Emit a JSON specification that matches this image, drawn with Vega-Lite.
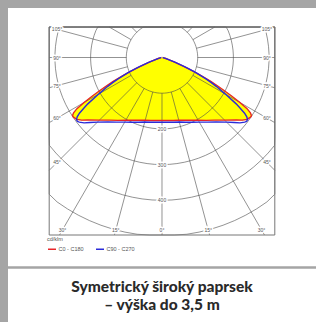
{
  "$schema": "https://vega.github.io/schema/vega-lite/v6.json",
  "width": 316,
  "height": 322,
  "autosize": {"type": "none"},
  "padding": 0,
  "background": "white",
  "config": {
    "view": {"stroke": null}
  },
  "datasets": {
    "curves": [
      {"plane": "C0 - C180",
       "g": [-90,-85,-80,-75,-72,-70,-68,-67,-66,-65,-64,-63,-62,-61,-60,-59,-58,-57,-56,-54,-52,-50,-45,-40,-35,-30,-25,-20,-15,-10,-5,0,5,10,15,20,25,30,35,40,45,50,52,54,56,57,58,59,60,61,62,63,64,65,66,67,68,70,72,75,80,85,90],
       "cd": [2,3,5,11,21,36,62,80,102,126,152,174,198,224,252,278,292,299,299,295,285,272,248,229,215,203,194,187,182,179,177,176,177,179,182,187,194,203,215,229,248,272,285,295,299,299,292,278,252,224,198,174,152,126,102,80,62,36,21,11,5,3,2]},
      {"plane": "C90 - C270",
       "g": [-90,-85,-80,-75,-72,-70,-68,-66,-64,-63,-62,-60,-58,-57,-56,-55,-54,-53,-52,-50,-48,-45,-40,-35,-30,-25,-20,-15,-10,-5,0,5,10,15,20,25,30,35,40,45,48,50,52,53,54,55,56,57,58,60,62,63,64,66,68,70,72,75,80,85,90],
       "cd": [2,3,5,12,23,40,68,103,138,155,172,205,245,262,279,290,296,297,294,285,272,256,236,221,209,200,193,187,184,182,181,182,184,187,193,200,209,221,236,256,272,285,294,297,296,290,279,262,245,205,172,155,138,103,68,40,23,12,5,3,2]}
    ],
    "rings": [
      {"r100": 100, "r200": 200, "r300": 300, "r400": 400, "r500": 500,
       "a": [0,4,8,12,16,20,24,28,32,36,40,44,48,52,56,60,64,68,72,76,80,84,88,92,96,100,104,108,112,116,120,124,128,132,136,140,144,148,152,156,160,164,168,172,176,180,184,188,192,196,200,204,208,212,216,220,224,228,232,236,240,244,248,252,256,260,264,268,272,276,280,284,288,292,296,300,304,308,312,316,320,324,328,332,336,340,344,348,352,356,360]}
    ],
    "rays": [
      {"g": [-180,-165,-150,-135,-120,-105,-90,-75,-60,-45,-30,-15,0,15,30,45,60,75,90,105,120,135,150,165,180]}
    ],
    "labels": [
      {"t": "105°", "g": -105}, {"t": "90°", "g": -90}, {"t": "75°", "g": -75}, {"t": "60°", "g": -60},
      {"t": "45°", "g": -45}, {"t": "30°", "g": -30}, {"t": "15°", "g": -15}, {"t": "0°", "g": 0},
      {"t": "15°", "g": 15}, {"t": "30°", "g": 30}, {"t": "45°", "g": 45}, {"t": "60°", "g": 60},
      {"t": "75°", "g": 75}, {"t": "90°", "g": 90}, {"t": "105°", "g": 105},
      {"t": "200", "g": 0, "r": 200}, {"t": "300", "g": 0, "r": 300}, {"t": "400", "g": 0, "r": 400}
    ]
  },
  "layer": [
    {
      "data": {"name": "curves"},
      "transform": [
        {"flatten": ["g", "cd"]},
        {"filter": "datum.plane === 'C0 - C180'"},
        {"calculate": "datum.cd*sin(datum.g*PI/180)", "as": "X"},
        {"calculate": "-datum.cd*cos(datum.g*PI/180)", "as": "Y"}
      ],
      "mark": {"type": "line", "fill": "#ffff00", "stroke": "#ffff00", "strokeWidth": 0.5},
      "encoding": {
        "x": {"field": "X", "type": "quantitative", "scale": {"domain": [-453.8, 431.4], "nice": false, "zero": false}, "axis": null},
        "y": {"field": "Y", "type": "quantitative", "scale": {"domain": [-740.9, 161.1], "nice": false, "zero": false}, "axis": null},
        "order": {"field": "g", "type": "quantitative"}
      }
    },
    {
      "data": {"name": "rings"},
      "transform": [
        {"flatten": ["a"]},
        {"fold": ["r100", "r200", "r300", "r400", "r500"], "as": ["ring", "r"]},
        {"calculate": "clamp(datum.r*sin(datum.a*PI/180), -316, 316)", "as": "X"},
        {"calculate": "clamp(-datum.r*cos(datum.a*PI/180), -497.2, 85.4)", "as": "Y"}
      ],
      "mark": {"type": "line", "stroke": "#4a4a4a", "strokeWidth": 0.6},
      "encoding": {
        "x": {"field": "X", "type": "quantitative", "scale": {"domain": [-453.8, 431.4], "nice": false, "zero": false}, "axis": null},
        "y": {"field": "Y", "type": "quantitative", "scale": {"domain": [-740.9, 161.1], "nice": false, "zero": false}, "axis": null},
        "detail": {"field": "ring", "type": "nominal"},
        "order": {"field": "a", "type": "quantitative"}
      }
    },
    {
      "data": {"name": "rays"},
      "transform": [
        {"flatten": ["g"]},
        {"calculate": "sin(datum.g*PI/180)", "as": "s"},
        {"calculate": "cos(datum.g*PI/180)", "as": "c"},
        {"calculate": "min(abs(datum.s) > 0.001 ? 316/abs(datum.s) : 100000, datum.c > 0.001 ? 497.2/datum.c : (datum.c < -0.001 ? 85.4/(-datum.c) : 100000))", "as": "re"},
        {"filter": "datum.re > 100"},
        {"calculate": "100*datum.s", "as": "X"},
        {"calculate": "-100*datum.c", "as": "Y"},
        {"calculate": "datum.re*datum.s", "as": "X2"},
        {"calculate": "-datum.re*datum.c", "as": "Y2"}
      ],
      "mark": {"type": "rule", "stroke": "#4a4a4a", "strokeWidth": 0.6},
      "encoding": {
        "x": {"field": "X", "type": "quantitative", "scale": {"domain": [-453.8, 431.4], "nice": false, "zero": false}, "axis": null},
        "y": {"field": "Y", "type": "quantitative", "scale": {"domain": [-740.9, 161.1], "nice": false, "zero": false}, "axis": null},
        "x2": {"field": "X2"},
        "y2": {"field": "Y2"}
      }
    },
    {
      "data": {"values": [{}]},
      "mark": {"type": "rect", "filled": false, "stroke": "#777777", "strokeWidth": 1},
      "encoding": {
        "x": {"datum": -316, "type": "quantitative", "scale": {"domain": [-453.8, 431.4], "nice": false, "zero": false}, "axis": null},
        "x2": {"datum": 316},
        "y": {"datum": 85.4, "type": "quantitative", "scale": {"domain": [-740.9, 161.1], "nice": false, "zero": false}, "axis": null},
        "y2": {"datum": -497.2}
      }
    },
    {
      "data": {"name": "curves"},
      "transform": [
        {"flatten": ["g", "cd"]},
        {"calculate": "datum.cd*sin(datum.g*PI/180)", "as": "X"},
        {"calculate": "-datum.cd*cos(datum.g*PI/180)", "as": "Y"}
      ],
      "mark": {"type": "line", "strokeWidth": 1.4},
      "encoding": {
        "x": {"field": "X", "type": "quantitative", "scale": {"domain": [-453.8, 431.4], "nice": false, "zero": false}, "axis": null},
        "y": {"field": "Y", "type": "quantitative", "scale": {"domain": [-740.9, 161.1], "nice": false, "zero": false}, "axis": null},
        "order": {"field": "g", "type": "quantitative"},
        "color": {
          "field": "plane", "type": "nominal",
          "scale": {"domain": ["C0 - C180", "C90 - C270"], "range": ["#e8262a", "#2b2bd9"]},
          "legend": {
            "orient": "none", "legendX": 47, "legendY": 237, "direction": "horizontal",
            "title": "cd/klm", "titleFontSize": 5.5, "titleFontWeight": "normal", "titleColor": "#555555",
            "titleFont": "Liberation Sans", "titlePadding": 1.5,
            "labelFontSize": 5.5, "labelColor": "#555555", "labelFont": "Liberation Sans",
            "symbolType": "stroke", "symbolSize": 64, "symbolStrokeWidth": 1.5, "columnPadding": 9, "labelOffset": 1.5, "padding": 0
          }
        }
      }
    },
    {
      "data": {"name": "labels"},
      "transform": [
        {"calculate": "sin(datum.g*PI/180)", "as": "s"},
        {"calculate": "cos(datum.g*PI/180)", "as": "c"},
        {"calculate": "isValid(datum.r) ? datum.r : min(abs(datum.s) > 0.001 ? 294/abs(datum.s) : 100000, datum.c > 0.001 ? 483/datum.c : 100000)", "as": "rr"},
        {"calculate": "datum.rr*datum.s", "as": "X"},
        {"calculate": "-datum.rr*datum.c", "as": "Y"}
      ],
      "mark": {"type": "text", "fontSize": 5, "font": "Liberation Sans", "stroke": "white", "strokeWidth": 3, "fill": "white", "align": "center", "baseline": "middle"},
      "encoding": {
        "x": {"field": "X", "type": "quantitative", "scale": {"domain": [-453.8, 431.4], "nice": false, "zero": false}, "axis": null},
        "y": {"field": "Y", "type": "quantitative", "scale": {"domain": [-740.9, 161.1], "nice": false, "zero": false}, "axis": null},
        "text": {"field": "t"}
      }
    },
    {
      "data": {"name": "labels"},
      "transform": [
        {"calculate": "sin(datum.g*PI/180)", "as": "s"},
        {"calculate": "cos(datum.g*PI/180)", "as": "c"},
        {"calculate": "isValid(datum.r) ? datum.r : min(abs(datum.s) > 0.001 ? 294/abs(datum.s) : 100000, datum.c > 0.001 ? 483/datum.c : 100000)", "as": "rr"},
        {"calculate": "datum.rr*datum.s", "as": "X"},
        {"calculate": "-datum.rr*datum.c", "as": "Y"}
      ],
      "mark": {"type": "text", "fontSize": 5, "font": "Liberation Sans", "fill": "#555555", "align": "center", "baseline": "middle"},
      "encoding": {
        "x": {"field": "X", "type": "quantitative", "scale": {"domain": [-453.8, 431.4], "nice": false, "zero": false}, "axis": null},
        "y": {"field": "Y", "type": "quantitative", "scale": {"domain": [-740.9, 161.1], "nice": false, "zero": false}, "axis": null},
        "text": {"field": "t"}
      }
    },
    {
      "data": {"values": [{}]},
      "mark": {"type": "rule", "stroke": "#a5a5a5", "strokeWidth": 2.5},
      "encoding": {
        "y": {"datum": -588.2, "type": "quantitative", "scale": {"domain": [-740.9, 161.1], "nice": false, "zero": false}, "axis": null}
      }
    },
    {
      "data": {"values": [{}]},
      "mark": {"type": "rule", "stroke": "#a5a5a5", "strokeWidth": 8},
      "encoding": {
        "y": {"datum": 149.9, "type": "quantitative", "scale": {"domain": [-740.9, 161.1], "nice": false, "zero": false}, "axis": null}
      }
    },
    {
      "data": {"values": [{}]},
      "mark": {"type": "rule", "stroke": "#a5a5a5", "strokeWidth": 8},
      "encoding": {
        "x": {"datum": -442.6, "type": "quantitative", "scale": {"domain": [-453.8, 431.4], "nice": false, "zero": false}, "axis": null}
      }
    },
    {
      "data": {"values": [{"t": "Symetrický široký paprsek"}, {"t": "– výška do 3,5 m"}]},
      "transform": [
        {"calculate": "datum.t === 'Symetrický široký paprsek' ? -656.9 : -707.3", "as": "Y"}
      ],
      "mark": {"type": "text", "fontSize": 15.5, "fontWeight": 900, "font": "Lato", "fill": "#2a2a2a", "align": "center", "baseline": "alphabetic"},
      "encoding": {
        "x": {"datum": 0, "type": "quantitative", "scale": {"domain": [-453.8, 431.4], "nice": false, "zero": false}, "axis": null},
        "y": {"field": "Y", "type": "quantitative", "scale": {"domain": [-740.9, 161.1], "nice": false, "zero": false}, "axis": null},
        "text": {"field": "t"}
      }
    }
  ]
}
